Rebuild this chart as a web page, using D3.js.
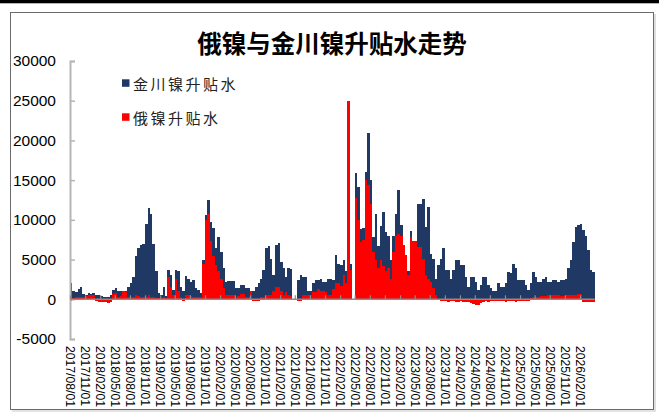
<!DOCTYPE html>
<html><head><meta charset="utf-8">
<script src="https://cdn.jsdelivr.net/npm/d3@7"></script>
<style>html,body{margin:0;padding:0;background:#fff;}svg{display:block;}</style>
</head><body>
<svg id="chart" width="659" height="414"></svg>
<script>
// ---- data (semi-monthly: 1st and 16th of each month, from 2017/08/01) ----
const startDate = "2017/08/01";
const seriesNames = ["金川镍升贴水", "俄镍升贴水"];
const jcPremium = [
  2000,1100,900,1300,1500,700,500,800,700,800,
  600,500,400,350,300,300,600,1200,1400,1000,
  1100,1000,1000,1500,2000,2800,5500,6500,6800,7000,
  9500,11500,10800,7000,3500,800,500,1500,400,3700,
  3000,1200,3700,3500,1500,1000,2900,2600,2200,2400,
  1400,1200,750,5000,10600,12500,9700,9000,6400,7900,
  6000,3900,2200,2300,2300,2300,1400,1400,1800,1800,
  1400,1400,1000,1000,1500,2000,2600,3700,6400,6700,
  5100,3000,6800,7100,4700,4000,2800,3900,3800,null,
  null,2400,3000,2800,2800,1100,1100,2000,2400,2400,
  2600,2200,2200,2600,2600,2400,5600,4500,4300,4900,
  3500,4000,4400,null,15900,14100,8800,9000,16000,20900,
  15000,7900,10800,6700,9200,11000,8500,8000,4900,8000,
  10700,13800,9300,6000,4700,3500,8600,7200,7200,12000,
  12000,12600,9100,11600,5700,5100,2600,4300,5100,6400,
  3700,3700,2600,3700,4900,4900,4300,4300,2800,1600,
  2800,2800,2200,1200,1800,2800,2800,1800,1400,1000,
  1000,2000,1600,1600,2000,3400,3250,4400,3900,2400,
  2400,2400,1800,1200,2000,3450,2800,2200,2200,2600,
  2800,2200,2200,2400,2400,2200,2400,2400,2600,3900,
  4900,7200,9100,9300,9500,8700,8000,6200,3700,3450
];
const ruPremium = [
  -200,100,300,300,300,300,400,500,500,500,
  -200,-300,-300,-300,-400,-500,-300,700,800,300,
  400,1000,900,300,300,300,500,400,300,300,
  300,600,300,300,200,200,100,300,100,2800,
  1500,600,2500,1000,300,-200,500,500,400,300,
  300,300,300,4500,10000,10800,7400,5500,4300,3500,
  2600,1400,500,500,500,500,300,400,700,700,
  300,300,1000,-200,-200,-200,300,300,500,500,
  500,1000,1600,1600,1000,500,900,500,400,null,
  null,-200,-200,500,500,600,600,900,900,1300,
  1100,1100,900,500,500,1300,2000,2000,1700,3000,
  2000,25000,3700,null,12700,10000,7200,7500,15000,14400,
  12000,5900,5000,4000,5000,4200,3500,4000,2600,5900,
  8000,8200,8000,6800,5600,3000,7800,7400,7400,6600,
  6600,5100,3100,2600,2200,1400,600,-150,-200,-200,
  -200,-300,-200,-200,-300,-300,-200,-300,-400,-400,
  -500,-600,-700,-700,-500,-300,-200,-300,-200,-200,
  -200,-200,-200,-200,-300,-200,-200,-200,-300,-200,
  -200,-200,-200,-200,200,300,300,300,400,450,
  450,500,500,500,500,500,450,450,500,500,
  500,500,600,700,700,-300,-300,-300,-300,-300
];
const tickLabels = [
  "2017/08/01","2017/11/01","2018/02/01","2018/05/01","2018/08/01","2018/11/01",
  "2019/02/01","2019/05/01","2019/08/01","2019/11/01","2020/02/01","2020/05/01",
  "2020/08/01","2020/11/01","2021/02/01","2021/05/01","2021/08/01","2021/11/01",
  "2022/02/01","2022/05/01","2022/08/01","2022/11/01","2023/02/01","2023/05/01",
  "2023/08/01","2023/11/01","2024/02/01","2024/05/01","2024/08/01","2024/11/01",
  "2025/02/01","2025/05/01","2025/08/01","2025/11/01","2026/02/01"
];
const yTicks = [-5000, 0, 5000, 10000, 15000, 20000, 25000, 30000];
const colors = ["#1f3864", "#ff0000"];

// ---- build ----
const parse = d3.timeParse("%Y/%m/%d");
const start = parse(startDate);
const dateAt = i => {
  const m = d3.timeMonth.offset(start, Math.floor(i / 2));
  return i % 2 ? d3.timeDay.offset(m, 15) : m;
};
const n = jcPremium.length;
const dates = d3.range(n + 1).map(dateAt);

const x = d3.scaleTime()
  .domain([parse(tickLabels[0]), parse(tickLabels[tickLabels.length - 1])])
  .range([70, 580]);
const y = d3.scaleLinear().domain([-5000, 30000]).range([339, 61]);

const svg = d3.select("#chart");

// top black band and frame
svg.append("rect").attr("x", 0).attr("y", 0).attr("width", 659).attr("height", 3.3).attr("fill", "#000");
svg.append("rect").attr("x", 10.5).attr("y", 12.5).attr("width", 643).attr("height", 397)
  .attr("fill", "none").attr("stroke", "#6b6b6b").attr("stroke-width", 1);
svg.append("path").attr("d", "M655,14V411H12").attr("fill", "none").attr("stroke", "#c8c8c8").attr("stroke-width", 1.2);

// title
svg.append("text").attr("x", 332).attr("y", 42)
  .attr("text-anchor", "middle").attr("dominant-baseline", "central")
  .style("font-family", "'Noto Sans CJK SC', sans-serif").style("font-weight", 700)
  .style("font-size", "24.5px").attr("fill", "#000")
  .text("俄镍与金川镍升贴水走势");

// bars (pixel-snapped so adjacent columns tile without gaps)
function drawSeries(values, color) {
  const data = values.map((v, i) => ({ v, x0: Math.round(x(dates[i])), x1: Math.round(x(dates[i + 1])) }))
    .filter(d => d.v !== null);
  svg.append("g").attr("shape-rendering", "crispEdges")
    .selectAll("rect").data(data).join("rect")
    .attr("x", d => d.x0)
    .attr("width", d => d.x1 - d.x0)
    .attr("y", d => Math.min(y(d.v), y(0)))
    .attr("height", d => Math.abs(y(d.v) - y(0)))
    .attr("fill", color);
}
drawSeries(jcPremium, colors[0]);
drawSeries(ruPremium, colors[1]);

// y axis
const yAxis = svg.append("g").attr("transform", "translate(70,0)")
  .call(d3.axisLeft(y).tickValues(yTicks).tickSize(-5).tickPadding(14)
    .tickFormat(d => d < 0 ? "-" + Math.abs(d) : String(d)));
yAxis.select(".domain").attr("stroke", "#b5b5b5").attr("stroke-width", 2);
yAxis.selectAll(".tick line").attr("stroke", "#b5b5b5").attr("stroke-width", 1.5);
yAxis.selectAll(".tick text")
  .style("font-family", "'Liberation Sans', Arial, sans-serif")
  .style("font-size", "15.5px").attr("fill", "#000");

// x axis at zero
const tickDates = tickLabels.map(parse);
const xAxis = svg.append("g").attr("transform", `translate(0,${y(0)})`)
  .call(d3.axisBottom(x).tickValues(tickDates).tickSize(-4).tickFormat(""));
xAxis.select(".domain").attr("stroke", "#8c8c8c").attr("stroke-width", 1.5)
  .attr("d", `M70,0H${x(dates[n])}`);
xAxis.selectAll(".tick line").attr("stroke", "#8c8c8c").attr("stroke-width", 1.2);

// rotated date labels
svg.append("g").selectAll("text").data(tickLabels).join("text")
  .attr("transform", d => `translate(${x(parse(d))},346) rotate(90)`)
  .attr("dominant-baseline", "central")
  .style("font-family", "'Liberation Sans', Arial, sans-serif")
  .style("font-size", "12.2px").attr("fill", "#000")
  .text(d => d);

// legend
const legend = svg.append("g");
[[83, 0], [117, 1]].forEach(([ly, k]) => {
  legend.append("rect").attr("x", 122).attr("y", ly - 3.7).attr("width", 7.5).attr("height", 7.5).attr("fill", colors[k]);
  legend.append("text").attr("x", 133).attr("y", ly)
    .attr("dominant-baseline", "central")
    .style("font-family", "'Noto Sans CJK SC', sans-serif")
    .style("font-size", "15px").style("letter-spacing", "2.5px").attr("fill", "#222")
    .text(seriesNames[k]);
});
</script>
</body></html>
